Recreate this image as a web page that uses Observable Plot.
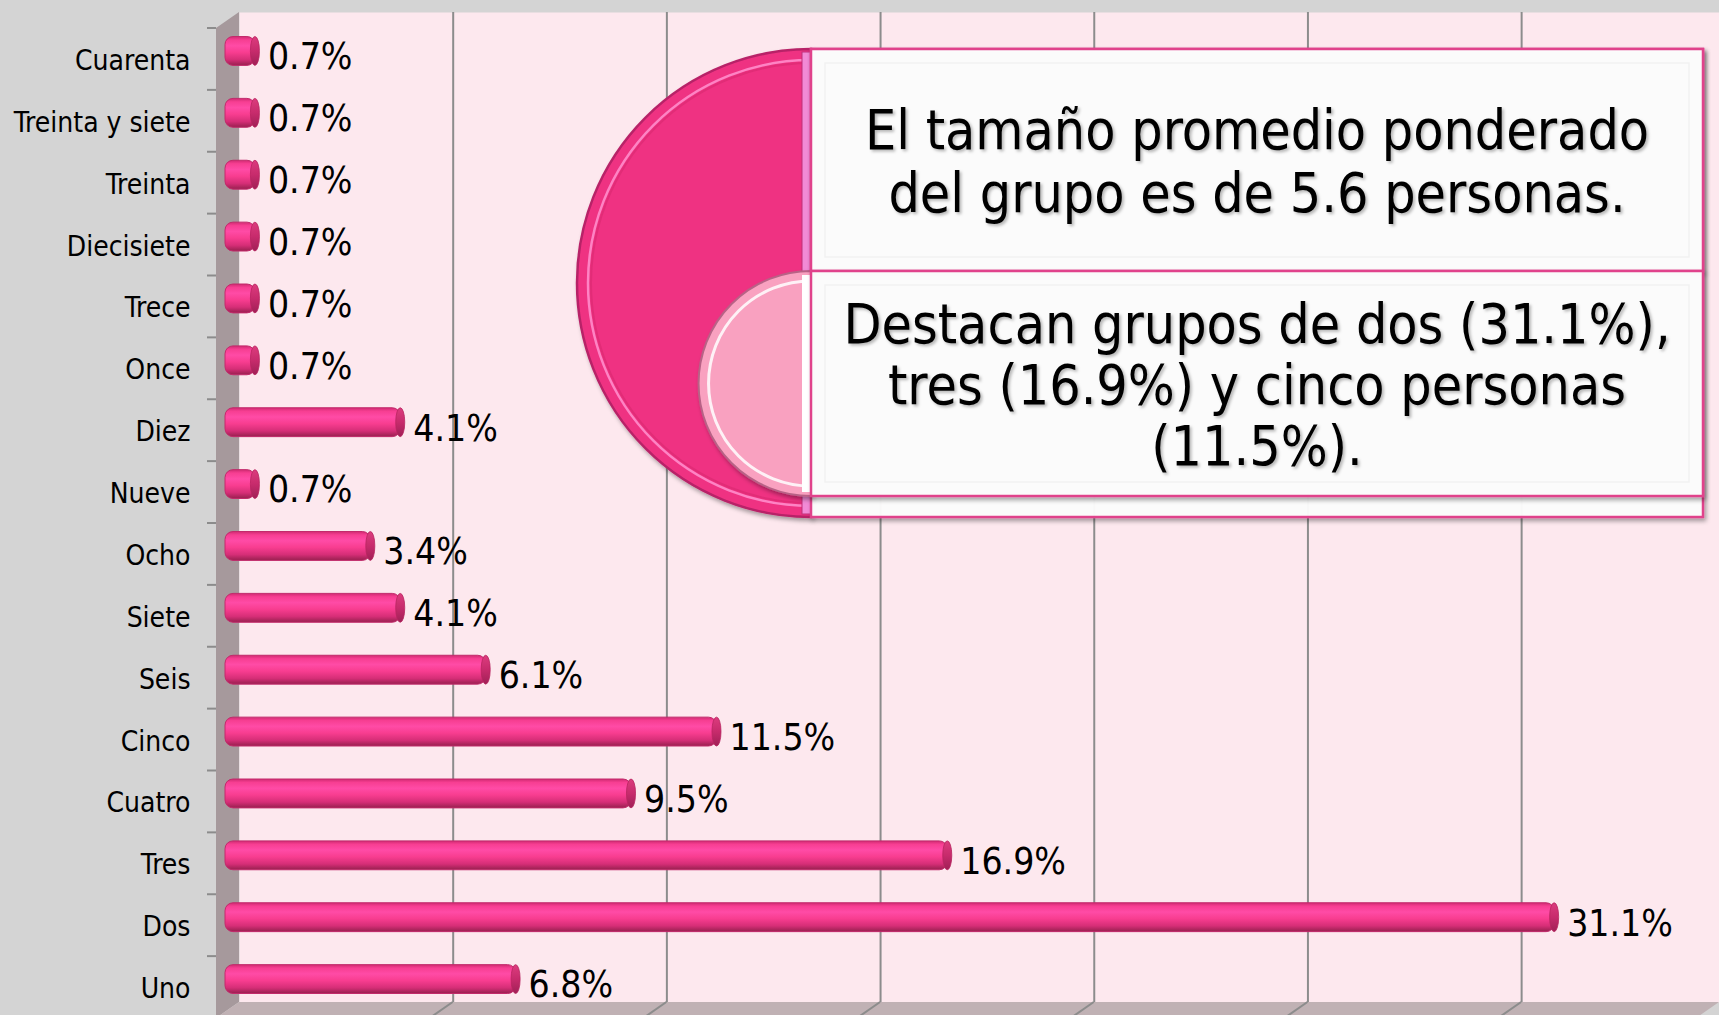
<!DOCTYPE html>
<html><head><meta charset="utf-8">
<script src="https://cdn.jsdelivr.net/npm/d3@7"></script>
<script src="https://cdn.jsdelivr.net/npm/@observablehq/plot@0.6"></script>
<style>
html,body{margin:0;padding:0;background:#d4d4d4;}
#chart{position:relative;width:1719px;height:1015px;overflow:hidden;}
</style></head><body><div id="chart"></div>
<script>
const categories = ["Cuarenta","Treinta y siete","Treinta","Diecisiete","Trece","Once","Diez","Nueve","Ocho","Siete","Seis","Cinco","Cuatro","Tres","Dos","Uno"];
const values = [0.7,0.7,0.7,0.7,0.7,0.7,4.1,0.7,3.4,4.1,6.1,11.5,9.5,16.9,31.1,6.8];
const gridTicks = [5,10,15,20,25,30];
const noteTop = ["El tamaño promedio ponderado","del grupo es de 5.6 personas."];
const noteBottom = ["Destacan grupos de dos (31.1%),","tres (16.9%) y cinco personas","(11.5%)."];

const data = categories.map((c,i)=>({cat:c, value: values[i]}));
const FONT = '"DejaVu Sans Condensed","DejaVu Sans",sans-serif';
const DX = -23, DY = 16; // offset of the front plane of the 3D box
const W = 1719, H = 1015;

const plot = Plot.plot({
  width: W, height: H,
  marginLeft: 239, marginRight: 0, marginTop: 12, marginBottom: 13,
  style: {fontFamily: FONT, background: "transparent", overflow: "visible", color: "black"},
  x: {domain: [0, 34.63], axis: null},
  y: {domain: categories, padding: 0, round: false},
  marks: [
    Plot.frame({fill: "#fde8ee", stroke: null}),
    Plot.gridX(gridTicks, {stroke: "#8c8c8c", strokeOpacity: 1, strokeWidth: 2}),
    Plot.barX(data, {x: "value", y: "cat", fill: "url(#barGrad)", stroke: "#c22a6b", strokeWidth: 1, insetTop: 16.5, insetBottom: 16.5, rx: 8, dx: -14, dy: 8}),
    Plot.barX(data, {x1: "value", x2: "value", y: "cat", fill: "url(#capGrad)", stroke: "#b8245f", strokeWidth: 0.8, insetLeft: -4.5, insetRight: -4.5, insetTop: 16.5, insetBottom: 16.5, rx: 4.5, ry: 14, dx: -14, dy: 8}),
    Plot.text(data, {x: "value", y: "cat", text: d => d.value.toFixed(1) + "%", textAnchor: "start", dx: -1.5, dy: 14, fontSize: 37, fill: "black"}),
    Plot.axisY({tickSize: 0, tickPadding: 49, dy: 17.5, fontSize: 28, label: null})
  ]
});
document.getElementById("chart").appendChild(plot);

const svg = d3.select(plot);
const xs = plot.scale("x"), ys = plot.scale("y");
const xL = xs.range[0], xR = xs.range[1];
const yT = ys.range[0], yB = ys.range[1];
const step = (yB - yT) / categories.length;

// defs
const defs = svg.insert("defs", ":first-child");
const bg = defs.append("linearGradient").attr("id","barGrad").attr("x1",0).attr("y1",0).attr("x2",0).attr("y2",1);
[[0,"#d02a72"],[0.12,"#f73e92"],[0.32,"#ff4ba6"],[0.55,"#f83d90"],[0.8,"#d62e77"],[1,"#98204f"]]
  .forEach(([o,c]) => bg.append("stop").attr("offset",o).attr("stop-color",c));
const cg = defs.append("linearGradient").attr("id","capGrad").attr("x1",0).attr("y1",0).attr("x2",0).attr("y2",1);
[[0,"#dc3c7e"],[0.5,"#c72b6c"],[1,"#a02056"]]
  .forEach(([o,c]) => cg.append("stop").attr("offset",o).attr("stop-color",c));
const sh = defs.append("filter").attr("id","shadow").attr("x","-10%").attr("y","-10%").attr("width","130%").attr("height","130%");
sh.append("feDropShadow").attr("dx",2).attr("dy",3).attr("stdDeviation",2).attr("flood-opacity",0.35);
const tsh = defs.append("filter").attr("id","tshadow");
tsh.append("feDropShadow").attr("dx",2).attr("dy",2).attr("stdDeviation",1.5).attr("flood-opacity",0.28);

// 3D wall and floor, under the bars
const frameEl = plot.querySelector('[aria-label="frame"]');
const deco = d3.create("svg:g");
deco.append("polygon")
  .attr("points", [[xL+DX,yT+DY],[xL,yT],[xL,yB],[xL+DX,yB+DY]].join(" "))
  .attr("fill","#a6999c");
deco.append("polygon")
  .attr("points", [[xL,yB],[xR,yB],[xR+DX,yB+DY],[xL+DX,yB+DY]].join(" "))
  .attr("fill","#c0b1b4");
gridTicks.forEach(t => {
  const gx = xs.apply(t);
  deco.append("line").attr("x1",gx).attr("y1",yB).attr("x2",gx+DX).attr("y2",yB+DY)
    .attr("stroke","#8c8c8c").attr("stroke-width",2);
});
for (let i = 0; i <= categories.length; i++) {
  const ty = yT + i*step + DY;
  deco.append("line").attr("x1",xL+DX-9).attr("x2",xL+DX).attr("y1",ty).attr("y2",ty)
    .attr("stroke","#8c8c8c").attr("stroke-width",2);
}
if (frameEl) frameEl.after(deco.node()); else svg.node().insertBefore(deco.node(), defs.node().nextSibling);

// callout
const note = svg.append("g");
const bx = 811, bw = 892, nTop = 49, nBot = 517;
const r1 = (nBot - nTop)/2, cy1 = (nTop + nBot)/2;
const nMid = 271, nB2 = 496;
const r2 = (nB2 - nMid)/2, cy2 = (nMid + nB2)/2;
function half(cy, r) { return `M${bx},${cy-r} A${r},${r} 0 0 0 ${bx},${cy+r} Z`; }
function arc(cy, r) { return `M${bx},${cy-r} A${r},${r} 0 0 0 ${bx},${cy+r}`; }
note.append("path").attr("d", half(cy1, r1)).attr("fill","#ef3282").attr("stroke","#b82368").attr("stroke-width",2.5).attr("filter","url(#shadow)");
note.append("path").attr("d", arc(cy1, r1-11)).attr("fill","none").attr("stroke","#ff8ccb").attr("stroke-width",2.5).attr("opacity",0.9);
note.append("path").attr("d", arc(cy1, r1-14)).attr("fill","none").attr("stroke","#d8286f").attr("stroke-width",2).attr("opacity",0.6);
note.append("rect").attr("x",bx-9).attr("y",nTop+3).attr("width",9).attr("height",nBot-nTop-6).attr("fill","#f28ad6").attr("stroke","#c0307a").attr("stroke-width",1);
note.append("rect").attr("x",bx).attr("y",nTop).attr("width",bw).attr("height",nBot-nTop)
  .attr("fill","#fdfdfd").attr("fill-opacity",0.96).attr("stroke","#e0428b").attr("stroke-width",2.5).attr("filter","url(#shadow)");
note.append("path").attr("d", half(cy2, r2)).attr("fill","#f9a1c0").attr("stroke","#b86286").attr("stroke-width",2).attr("filter","url(#shadow)");
note.append("path").attr("d", arc(cy2, r2-10)).attr("fill","none").attr("stroke","#ffffff").attr("stroke-width",3).attr("opacity",0.85);
note.append("rect").attr("x",bx-9).attr("y",nMid+4).attr("width",9).attr("height",nB2-nMid-8).attr("fill","#ffffff");
[[nTop, nMid-nTop],[nMid, nB2-nMid]].forEach(([y,h]) => {
  note.append("rect").attr("x",bx).attr("y",y).attr("width",bw).attr("height",h)
    .attr("fill","#fdfdfd").attr("fill-opacity",0.96).attr("stroke","#e0428b").attr("stroke-width",2.5).attr("filter","url(#shadow)");
  note.append("rect").attr("x",bx+14).attr("y",y+14).attr("width",bw-28).attr("height",h-28)
    .attr("fill","none").attr("stroke","#f2f2f2").attr("stroke-width",1.5);
});
const tx = bx + bw/2;
function lines(arr, y0, lh) {
  arr.forEach((s,i) => note.append("text").attr("x",tx).attr("y",y0 + i*lh)
    .attr("text-anchor","middle").attr("font-family",FONT).attr("font-size",55)
    .attr("fill","black").attr("filter","url(#tshadow)").text(s));
}
lines(noteTop, 149, 63);
lines(noteBottom, 343, 61);
</script></body></html>
